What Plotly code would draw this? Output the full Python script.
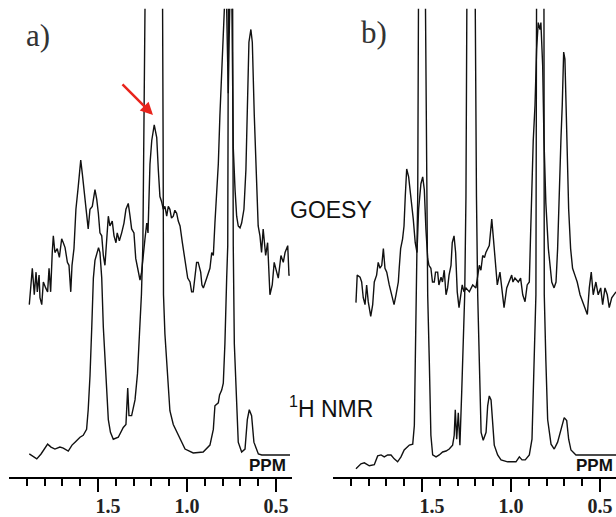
import plotly.graph_objects as go

# chemical shift (ppm) / intensity (a.u.)
# panel a) 1H NMR
nmr_a_ppm = [1.886, 1.844, 1.820, 1.783, 1.764, 1.742, 1.714, 1.695, 1.667, 1.646,
             1.629, 1.601, 1.583, 1.564, 1.555, 1.545, 1.535, 1.526, 1.517, 1.507,
             1.497, 1.489, 1.479, 1.470, 1.455, 1.442, 1.430, 1.414, 1.386, 1.358,
             1.343, 1.333, 1.326, 1.311, 1.292, 1.278, 1.267, 1.256, 1.248, 1.243,
             1.234, 1.185, 1.138, 1.134, 1.132, 1.124, 1.114, 1.096, 1.077, 1.049,
             1.011, 0.965, 0.909, 0.871, 0.852, 0.843, 0.824, 0.817, 0.805, 0.796,
             0.787, 0.777, 0.771, 0.767, 0.756, 0.744, 0.740, 0.734, 0.725, 0.712,
             0.693, 0.674, 0.661, 0.650, 0.637, 0.624, 0.599, 0.580, 0.421]
nmr_a_int = [1, -4, 1, 11, 8, 6, 8, 7, 4, 10,
             13, 18, 20, 26, 46, 80, 130, 180, 198, 206,
             211, 206, 180, 130, 80, 36, 23, 16, 18, 28,
             31, 68, 40, 40, 56, 83, 123, 163, 213, 313,
             493, 503, 493, 313, 163, 123, 93, 45, 31, 20,
             6, 2, 3, 10, 26, 50, 53, 61, 66, 73,
             113, 180, 213, 493, 503, 493, 213, 113, 63, 13,
             3, 6, 36, 46, 40, 13, 1, 0, 0]

# panel a) GOESY
goesy_a_ppm = [1.886, 1.878, 1.869, 1.863, 1.858, 1.848, 1.841, 1.831, 1.826, 1.816,
               1.807, 1.794, 1.783, 1.775, 1.766, 1.757, 1.751, 1.742, 1.729, 1.717,
               1.704, 1.695, 1.685, 1.672, 1.663, 1.653, 1.646, 1.635, 1.624, 1.611,
               1.597, 1.588, 1.579, 1.569, 1.560, 1.555, 1.545, 1.532, 1.517, 1.507,
               1.498, 1.489, 1.479, 1.470, 1.461, 1.451, 1.442, 1.433, 1.420, 1.410,
               1.399, 1.392, 1.380, 1.367, 1.354, 1.343, 1.330, 1.320, 1.311, 1.298,
               1.288, 1.277, 1.264, 1.255, 1.246, 1.236, 1.226, 1.219, 1.208, 1.198,
               1.184, 1.170, 1.161, 1.152, 1.143, 1.133, 1.124, 1.114, 1.105, 1.096,
               1.087, 1.077, 1.068, 1.058, 1.049, 1.039, 1.026, 1.011, 0.996, 0.983,
               0.974, 0.965, 0.955, 0.946, 0.937, 0.923, 0.916, 0.908, 0.889, 0.871,
               0.861, 0.852, 0.843, 0.833, 0.824, 0.815, 0.805, 0.796, 0.789, 0.781,
               0.774, 0.768, 0.763, 0.756, 0.748, 0.745, 0.740, 0.730, 0.721, 0.712,
               0.702, 0.693, 0.680, 0.669, 0.659, 0.652, 0.641, 0.633, 0.622, 0.609,
               0.600, 0.590, 0.581, 0.572, 0.558, 0.547, 0.534, 0.521, 0.510, 0.496,
               0.487, 0.472, 0.459, 0.449, 0.434, 0.427, 0.422]
goesy_a_int = [153, 170, 190, 176, 163, 186, 166, 183, 160, 153,
               176, 170, 166, 190, 166, 206, 223, 206, 210, 201,
               220, 216, 211, 196, 193, 166, 193, 210, 250, 273,
               300, 286, 270, 250, 236, 230, 250, 253, 270, 260,
               246, 226, 223, 203, 193, 220, 243, 233, 238, 223,
               216, 226, 218, 226, 236, 250, 256, 243, 230, 226,
               200, 190, 178, 186, 206, 220, 236, 226, 296, 320,
               336, 323, 290, 263, 258, 250, 253, 243, 253, 250,
               241, 243, 249, 246, 238, 233, 216, 200, 180, 176,
               166, 166, 180, 196, 196, 186, 173, 170, 180, 190,
               206, 203, 236, 270, 296, 346, 396, 436, 483, 493,
               423, 368, 423, 493, 463, 380, 313, 270, 243, 233,
               231, 236, 250, 290, 363, 420, 433, 420, 346, 280,
               233, 223, 206, 230, 203, 216, 163, 173, 196, 186,
               180, 203, 196, 206, 213, 183, 183]

# panel b) 1H NMR
nmr_b_ppm = [1.871, 1.843, 1.824, 1.796, 1.768, 1.749, 1.730, 1.712, 1.693, 1.674,
             1.656, 1.637, 1.618, 1.600, 1.571, 1.552, 1.543, 1.538, 1.530, 1.524,
             1.519, 1.500, 1.482, 1.475, 1.468, 1.459, 1.450, 1.440, 1.421, 1.403,
             1.384, 1.365, 1.347, 1.328, 1.319, 1.313, 1.305, 1.296, 1.287, 1.277,
             1.268, 1.260, 1.253, 1.247, 1.225, 1.202, 1.194, 1.187, 1.178, 1.168,
             1.156, 1.140, 1.131, 1.122, 1.112, 1.103, 1.094, 1.075, 1.056, 1.019,
             0.972, 0.953, 0.938, 0.920, 0.897, 0.882, 0.875, 0.865, 0.860, 0.856,
             0.835, 0.815, 0.813, 0.804, 0.794, 0.775, 0.757, 0.738, 0.719, 0.701,
             0.687, 0.676, 0.663, 0.635, 0.410]
nmr_b_int = [-14, -9, -8, -11, -10, -1, 0, -2, 0, 0,
             -4, -7, -2, 5, 10, 11, 30, 96, 163, 263,
             493, 503, 493, 263, 163, 96, 20, 0, -2, 0,
             3, 4, 6, 10, 20, 46, 16, 43, 10, 63,
             130, 163, 263, 493, 503, 493, 263, 163, 96, 23,
             15, 23, 50, 60, 56, 30, 10, 0, -5, -7,
             -7, -2, -5, -5, 0, 16, 63, 130, 163, 493,
             503, 493, 163, 96, 36, 11, 6, 13, 26, 38,
             35, 16, 5, 0, 0]

# panel b) GOESY
goesy_b_ppm = [1.871, 1.864, 1.848, 1.839, 1.830, 1.820, 1.811, 1.802, 1.788, 1.777,
               1.768, 1.755, 1.746, 1.736, 1.726, 1.717, 1.708, 1.698, 1.684, 1.670,
               1.657, 1.646, 1.633, 1.628, 1.620, 1.609, 1.601, 1.594, 1.586, 1.575,
               1.562, 1.549, 1.538, 1.528, 1.519, 1.506, 1.496, 1.487, 1.478, 1.468,
               1.461, 1.450, 1.441, 1.431, 1.424, 1.412, 1.405, 1.393, 1.385, 1.375,
               1.365, 1.356, 1.348, 1.337, 1.330, 1.320, 1.311, 1.302, 1.292, 1.283,
               1.274, 1.264, 1.253, 1.234, 1.215, 1.197, 1.178, 1.169, 1.159, 1.149,
               1.141, 1.122, 1.115, 1.108, 1.100, 1.090, 1.077, 1.062, 1.052, 1.039,
               1.024, 1.010, 0.996, 0.989, 0.978, 0.959, 0.946, 0.934, 0.921, 0.909,
               0.897, 0.889, 0.882, 0.875, 0.865, 0.856, 0.847, 0.837, 0.832, 0.822,
               0.815, 0.804, 0.790, 0.771, 0.758, 0.747, 0.738, 0.729, 0.719, 0.712,
               0.704, 0.697, 0.691, 0.684, 0.676, 0.665, 0.654, 0.641, 0.628, 0.612,
               0.597, 0.584, 0.571, 0.560, 0.549, 0.538, 0.523, 0.510, 0.496, 0.485,
               0.472, 0.459, 0.448, 0.434, 0.421, 0.410]
goesy_b_int = [155, 183, 181, 176, 160, 153, 173, 156, 141, 153,
               176, 183, 196, 190, 193, 210, 190, 186, 173, 163,
               153, 163, 176, 190, 210, 220, 233, 263, 291, 283,
               263, 240, 216, 206, 250, 276, 283, 270, 230, 200,
               193, 190, 176, 176, 186, 186, 173, 181, 176, 188,
               163, 170, 183, 193, 216, 223, 206, 166, 150, 160,
               173, 166, 170, 166, 173, 170, 193, 188, 203, 201,
               206, 213, 231, 240, 223, 203, 173, 186, 170, 150,
               170, 176, 183, 176, 180, 176, 180, 163, 156, 173,
               176, 230, 276, 320, 356, 413, 440, 433, 440, 396,
               323, 256, 210, 176, 170, 176, 210, 276, 323, 356,
               410, 403, 363, 330, 250, 210, 190, 183, 176, 163,
               156, 150, 143, 170, 186, 163, 176, 163, 170, 153,
               170, 163, 150, 160, 163, 166]

major_ticks = [1.5, 1.0, 0.5]
major_labels = ["\u2002\u20021.5", "1.0", "0.5"]
minor_ticks = [1.9, 1.8, 1.7, 1.6, 1.4, 1.3, 1.2, 1.1, 0.9, 0.8, 0.7, 0.6]

W, H = 616, 517


def fx(px):
    return px / W


def fy(py):
    return 1 - py / H


line = dict(color="#111111", width=1.4)

fig = go.Figure()
for xs, ys, ax in [(nmr_a_ppm, nmr_a_int, "x"), (goesy_a_ppm, goesy_a_int, "x"),
                   (nmr_b_ppm, nmr_b_int, "x2"), (goesy_b_ppm, goesy_b_int, "x2")]:
    fig.add_trace(go.Scatter(x=xs, y=ys, mode="lines", line=line,
                             xaxis=ax, yaxis="y" if ax == "x" else "y2",
                             hoverinfo="skip", showlegend=False))

xax = dict(range=[2.0, 0.41], showgrid=False, zeroline=False,
           showline=True, linecolor="black", linewidth=2,
           ticks="outside", ticklen=13, tickwidth=2, tickcolor="black",
           tickmode="array", tickvals=major_ticks, ticktext=major_labels,
           tickfont=dict(family="Liberation Serif", size=20, color="#222", weight="bold"),
           ticklabelstandoff=-3,
           minor=dict(ticks="outside", ticklen=7, tickwidth=2, tickcolor="black",
                      tickmode="array", tickvals=minor_ticks),
           fixedrange=True)
yax = dict(range=[-22, 454], visible=False, fixedrange=True,
           domain=[fy(485), fy(9)])

fig.update_layout(
    width=W, height=H, margin=dict(l=0, r=0, t=0, b=0),
    paper_bgcolor="white", plot_bgcolor="white",
    xaxis=dict(xax, domain=[fx(9), fx(292)], anchor="y"),
    xaxis2=dict(xax, domain=[fx(333), 1.0], anchor="y2"),
    yaxis=dict(yax, anchor="x"),
    yaxis2=dict(yax, anchor="x2"),
)

serif = dict(family="Liberation Serif", size=31, color="#333")
sans = dict(family="Liberation Sans", size=23, color="#111")
ppm_font = dict(family="Liberation Sans", size=17, color="#111", weight="bold")


def label(text, px, py, font, xanchor="center"):
    fig.add_annotation(text=text, x=fx(px), y=fy(py), xref="paper", yref="paper",
                       xanchor=xanchor, yanchor="middle", showarrow=False, font=font)


label("a)", 38, 36, serif)
label("b)", 374, 33, serif)
label("GOESY", 331, 214, sans)
label("<sup>1</sup>H NMR", 331, 414, sans)
label("PPM", 288, 474, ppm_font, "right")
label("PPM", 615, 474, ppm_font, "right")

# red arrow pointing at the GOESY peak near 1.19 ppm
fig.add_annotation(x=1.191, y=346, xref="x", yref="y", ax=-32, ay=-32,
                   showarrow=True, arrowhead=2, arrowsize=1, arrowwidth=2.5,
                   arrowcolor="#e8241c", text="")

# drop the browser's default page margin so the figure sits at the window origin
fig.write_html("out.html", config={"displayModeBar": False},
               post_script="document.body.style.margin = '0';")
